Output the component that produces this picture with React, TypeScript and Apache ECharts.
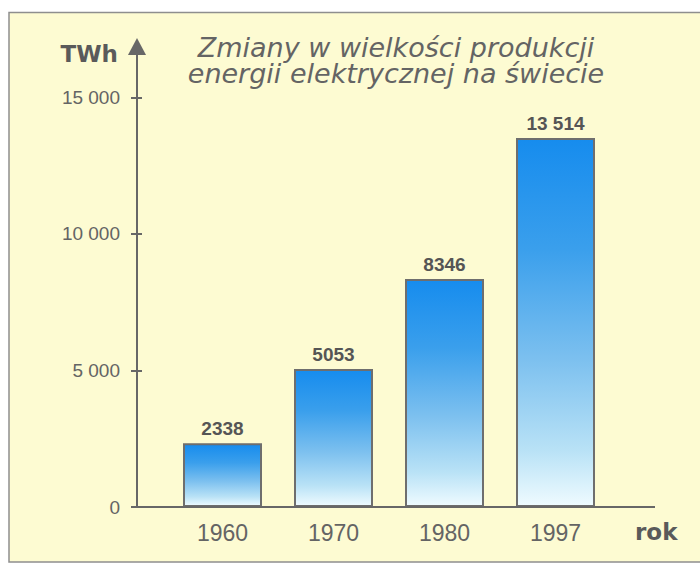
import React, { useEffect, useRef } from 'react';
import * as echarts from 'echarts';

const years = ['1960', '1970', '1980', '1997'];
const production = [2338, 5053, 8346, 13514];
const yTicks = [0, 5000, 10000, 15000];
const titleLines = ['Zmiany w wielkości produkcji', 'energii elektrycznej na świecie'];
const yUnit = 'TWh';
const xUnit = 'rok';

const groupThousands = (v: number) => String(v).replace(/(\d)(?=(\d{3})+$)/g, '$1 ');
const tickFmt = (v: number) => groupThousands(v);
const barFmt = (v: number) => (v >= 10000 ? groupThousands(v) : String(v));

const TEXT = '#646464';
const AXIS = '#676767';

export default function App() {
  const ref = useRef<HTMLDivElement>(null);
  useEffect(() => {
    if (!ref.current) return;
    const chart = echarts.init(ref.current, undefined, { renderer: 'svg' });
    const gradient = new echarts.graphic.LinearGradient(0, 0, 0, 1, [
      { offset: 0, color: '#168cee' },
      { offset: 0.3, color: '#3a9fec' },
      { offset: 0.6, color: '#7cc0ef' },
      { offset: 0.85, color: '#b9e2f6' },
      { offset: 1, color: '#effbff' },
    ]);
    const yMax = 16860;
    chart.setOption({
      animation: false,
      backgroundColor: '#ffffff',
      grid: { left: 167, right: 89, top: 46.5, bottom: 56, containLabel: false },
      xAxis: {
        type: 'category',
        data: years,
        axisLine: { show: false },
        axisTick: { show: false },
        axisLabel: { margin: 14, fontSize: 23, color: TEXT, fontFamily: 'Liberation Sans' },
      },
      yAxis: [
        {
          type: 'value',
          min: 0,
          max: yMax,
          position: 'left',
          offset: 30,
          splitLine: { show: false },
          axisLine: {
            show: true,
            symbol: ['none', 'triangle'],
            symbolSize: [18, 17],
            lineStyle: { color: AXIS, width: 2 },
          },
          axisTick: { show: true, length: 6, customValues: yTicks, lineStyle: { color: AXIS, width: 2 } },
          axisLabel: {
            customValues: yTicks,
            margin: 17,
            formatter: tickFmt,
            fontSize: 19,
            color: TEXT,
            fontFamily: 'Liberation Sans',
          },
        },
        {
          type: 'value',
          min: 0,
          max: yMax,
          position: 'left',
          offset: 30,
          splitLine: { show: false },
          axisLine: { show: false },
          axisTick: { show: true, inside: true, length: 5, customValues: yTicks, lineStyle: { color: AXIS, width: 2 } },
          axisLabel: { show: false },
        },
      ],
      series: [
        {
          type: 'bar',
          data: production,
          barWidth: 79,
          itemStyle: { color: gradient, borderColor: '#6e6e6e', borderWidth: 2 },
          label: {
            show: true,
            position: 'top',
            distance: 5,
            formatter: (p: any) => barFmt(p.value),
            fontSize: 19,
            fontWeight: 'bold',
            color: '#555555',
            fontFamily: 'Liberation Sans',
          },
        },
      ],
      graphic: [
        {
          type: 'rect',
          z: -10,
          shape: { x: 9, y: 12.5, width: 720, height: 549.5 },
          style: { fill: '#fdfbd2', stroke: '#8e8e8e', lineWidth: 1.5 },
        },
        {
          type: 'line',
          z: 10,
          shape: { x1: 131, y1: 507, x2: 655, y2: 507 },
          style: { stroke: AXIS, lineWidth: 2 },
        },
        {
          type: 'text',
          x: 396,
          y: 60.5,
          style: {
            text: titleLines.join('\n'),
            fontSize: 27,
            lineHeight: 25.5,
            fontStyle: 'italic',
            fontFamily: 'DejaVu Sans',
            fill: TEXT,
            align: 'center',
            verticalAlign: 'middle',
          },
        },
        {
          type: 'text',
          x: 118,
          y: 54,
          style: {
            text: yUnit,
            fontSize: 23,
            fontWeight: 'bold',
            fontFamily: 'DejaVu Sans',
            fill: '#5a5a5a',
            align: 'right',
            verticalAlign: 'middle',
          },
        },
        {
          type: 'text',
          x: 635,
          y: 532,
          style: {
            text: xUnit,
            fontSize: 23,
            fontWeight: 'bold',
            fontFamily: 'DejaVu Sans',
            fill: '#5a5a5a',
            align: 'left',
            verticalAlign: 'middle',
          },
        },
      ],
    });
    return () => chart.dispose();
  }, []);
  return (
    <div
      ref={ref}
      style={{ position: 'fixed', left: 0, top: 0, width: 700, height: 563 }}
    />
  );
}
